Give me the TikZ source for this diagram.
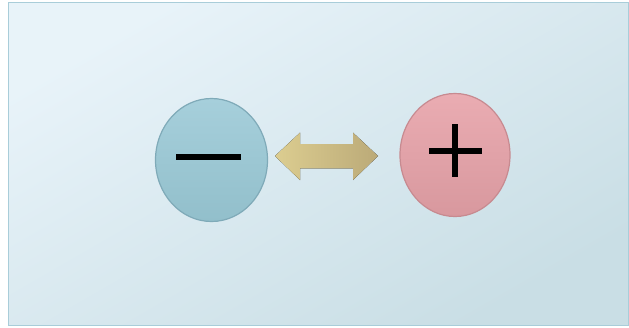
\documentclass[tikz,border=0pt]{standalone}
\usetikzlibrary{shapes.geometric,shadings}
\definecolor{bgA}{HTML}{E8F3F9}
\definecolor{bgB}{HTML}{C9DEE5}
\definecolor{frameC}{HTML}{A9CDD9}
\definecolor{blueA}{HTML}{A6CFDB}
\definecolor{blueB}{HTML}{92BFCB}
\definecolor{blueE}{HTML}{7FAAB8}
\definecolor{pinkA}{HTML}{EAACB2}
\definecolor{pinkB}{HTML}{D8989E}
\definecolor{pinkE}{HTML}{C78A90}
\definecolor{goldA}{HTML}{DCCD90}
\definecolor{goldB}{HTML}{BBAA78}
\tikzset{
  ball/.style={ellipse, minimum width=112pt, minimum height=123pt, inner sep=0pt, line width=1.2pt},
  sign/.style={fill=black, draw=none}
}
\begin{document}
\begin{tikzpicture}[x=1pt,y=-1pt]
\useasboundingbox (0,0) rectangle (629,327);
\fill[white] (0,0) rectangle (629,327);
\node[draw=frameC, line width=1pt, left color=bgA, right color=bgB, shading angle=30, minimum width=620pt, minimum height=323pt, inner sep=0pt, anchor=north west] (frame) at (7.5,1.5) {};
\node[ball, draw=blueE, top color=blueA, bottom color=blueB] (minus) at (211.5,160) {};
\node[ball, draw=pinkE, top color=pinkA, bottom color=pinkB, minimum width=110pt] (plus) at (455,155) {};
\fill[sign] (176,153.5) rectangle (241,160);
\fill[sign] (428.5,148.3) rectangle (481.7,154.3);
\fill[sign] (451.9,124) rectangle (458.1,177);
\fill[left color=goldA, right color=goldB]
  (275,156) -- (300,132.7) -- (300,144) -- (353,144) -- (353,132.7) -- (378,156)
  -- (353,180) -- (353,168.3) -- (300,168.3) -- (300,180) -- cycle;
\end{tikzpicture}
\end{document}
